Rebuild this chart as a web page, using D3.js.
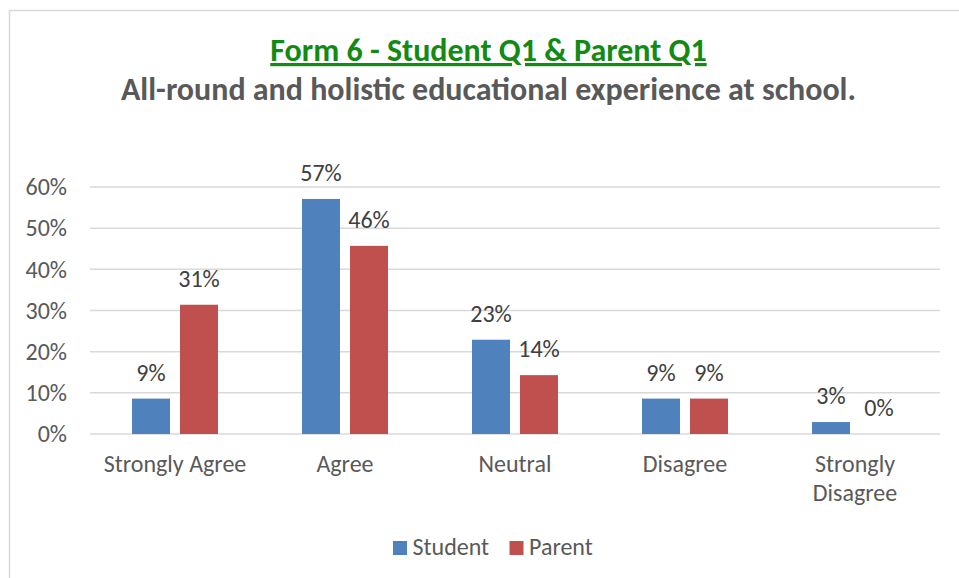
<!DOCTYPE html>
<html>
<head>
<meta charset="utf-8">
<script src="https://cdn.jsdelivr.net/npm/d3@7"></script>
<style>
  body { margin: 0; background: #fff; }
  svg text { font-family: Carlito, Calibri, "Open Sans", sans-serif; }
</style>
</head>
<body>
<svg id="chart"></svg>
<script>
// chart data
var categories = ["Strongly Agree", "Agree", "Neutral", "Disagree", "Strongly Disagree"];
var seriesNames = ["Student", "Parent"];
var studentValues = [8.6, 57.1, 22.9, 8.6, 2.9];
var parentValues = [31.4, 45.7, 14.3, 8.6, 0];
var yTicks = [0, 10, 20, 30, 40, 50, 60];
var seriesColors = ["#4F81BD", "#C0504D"];
var titleText = "Form 6 - Student Q1 & Parent Q1";
var subtitleText = "All-round and holistic educational experience at school.";

var width = 959, height = 578;
var margin = {top: 187, right: 19, bottom: 144, left: 90};
var fontStack = 'Carlito, Calibri, "Open Sans", sans-serif';
var labelSize = 24;

var svg = d3.select("#chart").attr("width", width).attr("height", height);

// chart area border (right/bottom edges are cut off in the picture)
svg.append("rect")
  .attr("x", 9.5).attr("y", 10.5)
  .attr("width", 1000).attr("height", 1000)
  .attr("fill", "none")
  .attr("stroke", "#d9d9d9")
  .attr("stroke-width", 1.5);

svg.append("text")
  .attr("x", 488.5).attr("y", 61)
  .attr("text-anchor", "middle")
  .attr("font-size", 32).attr("font-weight", "bold")
  .attr("fill", "#138a13")
  .attr("text-decoration", "underline")
  .text(titleText);

svg.append("text")
  .attr("x", 488.5).attr("y", 100)
  .attr("text-anchor", "middle")
  .attr("font-size", 32).attr("font-weight", "bold")
  .attr("fill", "#595959")
  .text(subtitleText);

var x = d3.scaleBand()
  .domain(categories)
  .range([margin.left, width - margin.right])
  .padding(0);

var xSub = d3.scaleBand()
  .domain(seriesNames)
  .range([42, 128])
  .paddingInner(10 / 48);

var y = d3.scaleLinear()
  .domain([0, 60])
  .range([height - margin.bottom, margin.top]);

// gridlines
svg.append("g")
  .selectAll("line")
  .data(yTicks)
  .enter().append("line")
  .attr("x1", margin.left).attr("x2", width - margin.right)
  .attr("y1", function(d) { return y(d); })
  .attr("y2", function(d) { return y(d); })
  .attr("stroke", "#d9d9d9")
  .attr("stroke-width", 1.5);

// y axis labels
var yAxis = d3.axisLeft(y).tickValues(yTicks).tickSize(0).tickPadding(23)
  .tickFormat(function(d) { return d + "%"; });
var yg = svg.append("g").attr("transform", "translate(" + margin.left + ",0)").call(yAxis);
yg.select(".domain").remove();
yg.selectAll("text")
  .attr("font-size", labelSize)
  .attr("fill", "#595959")
  .style("font-family", fontStack);

// bars
var rows = categories.map(function(c, i) {
  return {cat: c, values: [
    {series: "Student", value: studentValues[i]},
    {series: "Parent", value: parentValues[i]}
  ]};
});

var groups = svg.append("g")
  .selectAll("g")
  .data(rows)
  .enter().append("g")
  .attr("transform", function(d) { return "translate(" + x(d.cat) + ",0)"; });

groups.selectAll("rect")
  .data(function(d) { return d.values; })
  .enter().append("rect")
  .attr("x", function(d) { return xSub(d.series); })
  .attr("width", xSub.bandwidth())
  .attr("y", function(d) { return y(d.value); })
  .attr("height", function(d) { return y(0) - y(d.value); })
  .attr("fill", function(d, i) { return seriesColors[i]; });

// data labels
groups.selectAll("text")
  .data(function(d) { return d.values; })
  .enter().append("text")
  .attr("x", function(d) { return xSub(d.series) + xSub.bandwidth() / 2; })
  .attr("y", function(d) { return y(d.value) - 18; })
  .attr("text-anchor", "middle")
  .attr("font-size", labelSize)
  .attr("fill", "#404040")
  .text(function(d) { return Math.round(d.value) + "%"; });

// x axis labels, wrapped when wider than the band
var xAxis = d3.axisBottom(x).tickSize(0).tickPadding(0);
var xg = svg.append("g").attr("transform", "translate(0," + y(0) + ")").call(xAxis);
xg.select(".domain").remove();
xg.selectAll("text")
  .attr("font-size", labelSize)
  .attr("fill", "#595959")
  .attr("y", 38).attr("dy", null)
  .style("font-family", fontStack)
  .each(function(d) {
    var t = d3.select(this);
    if (this.getComputedTextLength() > x.bandwidth() * 0.9) {
      var words = d.split(" ");
      t.text(null);
      words.forEach(function(w, i) {
        t.append("tspan").attr("x", 0).attr("y", 38 + i * 29).text(w);
      });
    }
  });

// legend
var legend = svg.append("g").attr("transform", "translate(393,541)");
var lx = [0, 116.5];
seriesNames.forEach(function(name, i) {
  legend.append("rect")
    .attr("x", lx[i]).attr("y", 0)
    .attr("width", 14).attr("height", 14)
    .attr("fill", seriesColors[i]);
  legend.append("text")
    .attr("x", lx[i] + 19.5).attr("y", 14)
    .attr("font-size", labelSize)
    .attr("fill", "#595959")
    .text(name);
});
</script>
</body>
</html>
